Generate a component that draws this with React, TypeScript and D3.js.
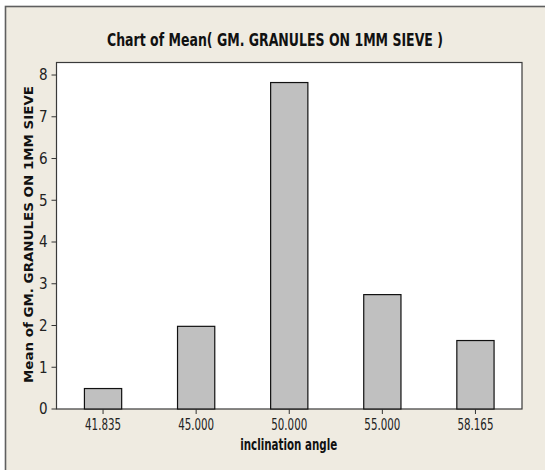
import React from "react";
import * as d3 from "d3";

const categories = ["41.835", "45.000", "50.000", "55.000", "58.165"];
const means = [0.49, 1.98, 7.82, 2.74, 1.64];
const yTicks = [0, 1, 2, 3, 4, 5, 6, 7, 8];
const title = "Chart of Mean( GM. GRANULES ON 1MM SIEVE )";
const xTitle = "inclination angle";
const yTitle = "Mean of GM. GRANULES ON 1MM SIEVE";

const W = 545;
const H = 470;
const plot = { left: 56.5, right: 522, top: 62.5, bottom: 409 };
const narrow = "'Liberation Sans Narrow', 'DejaVu Sans Condensed', 'Arial Narrow', sans-serif";

export default function App() {
  const x = d3
    .scaleBand<string>()
    .domain(categories)
    .range([plot.left, plot.right])
    .paddingInner(0.6)
    .paddingOuter(0.3);
  const y = d3.scaleLinear().domain([0, 8.3]).range([plot.bottom, plot.top]);

  return (
    <svg
      width={W}
      height={H}
      style={{ position: "absolute", left: 0, top: 0, background: "#ffffff" }}
    >
      <rect x={5.5} y={6.5} width={W} height={H} fill="#EFEBE1" stroke="#5f5f5f" strokeWidth={1.6} />
      <text
        x={275}
        y={45.5}
        textAnchor="middle"
        fontFamily={narrow}
        fontWeight="bold"
        fontSize={18}
        textLength={336}
        lengthAdjust="spacingAndGlyphs"
        fill="#111"
      >
        {title}
      </text>
      <rect
        x={plot.left}
        y={plot.top}
        width={plot.right - plot.left}
        height={plot.bottom - plot.top}
        fill="#ffffff"
        stroke="#3a3a3a"
        strokeWidth={1.2}
      />
      {categories.map((c, i) => (
        <rect
          key={c}
          x={x(c)}
          y={y(means[i])}
          width={x.bandwidth()}
          height={y(0) - y(means[i])}
          fill="#C0C0C0"
          stroke="#111"
          strokeWidth={1.2}
        />
      ))}
      {yTicks.map((t) => (
        <g key={t}>
          <line x1={plot.left - 5} x2={plot.left} y1={y(t)} y2={y(t)} stroke="#333" strokeWidth={1} />
          <text
            x={plot.left - 9}
            y={y(t)}
            dy="0.36em"
            textAnchor="end"
            fontFamily={narrow}
            fontSize={15}
            fill="#222"
          >
            {t}
          </text>
        </g>
      ))}
      {categories.map((c) => {
        const cx = (x(c) as number) + x.bandwidth() / 2;
        return (
          <g key={c}>
            <line x1={cx} x2={cx} y1={plot.bottom} y2={plot.bottom + 5} stroke="#333" strokeWidth={1} />
            <text
              x={cx}
              y={429.5}
              textAnchor="middle"
              fontFamily={narrow}
              fontSize={15}
              textLength={36}
              lengthAdjust="spacingAndGlyphs"
              fill="#222"
            >
              {c}
            </text>
          </g>
        );
      })}
      <text
        x={288.7}
        y={450}
        textAnchor="middle"
        fontFamily={narrow}
        fontWeight="bold"
        fontSize={15}
        textLength={97}
        lengthAdjust="spacingAndGlyphs"
        fill="#111"
      >
        {xTitle}
      </text>
      <text
        transform={`translate(33,234.5) rotate(-90)`}
        textAnchor="middle"
        fontFamily="'DejaVu Sans', Verdana, sans-serif"
        fontWeight="bold"
        fontSize={13}
        textLength={297}
        lengthAdjust="spacingAndGlyphs"
        fill="#111"
      >
        {yTitle}
      </text>
    </svg>
  );
}
